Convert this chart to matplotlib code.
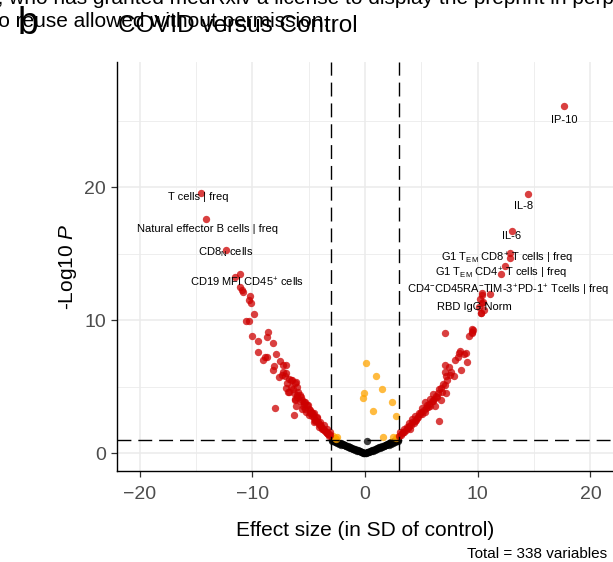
import matplotlib
matplotlib.use("Agg")
import matplotlib.pyplot as plt

plt.rcParams['font.family'] = ['Liberation Sans', 'DejaVu Sans']
plt.rcParams['mathtext.fontset'] = 'custom'
plt.rcParams['mathtext.rm'] = 'Liberation Sans'
plt.rcParams['mathtext.it'] = 'Liberation Sans:italic'
plt.rcParams['mathtext.default'] = 'regular'

# significant, large effect (red)
red_x = [-14.58, -14.10, -12.33, -11.08, -11.50, -11.05, -10.90, -10.85, -10.20, -10.25,
         -10.10, -9.82, -10.55, -10.32, -9.98, -9.45, -8.62, -8.71, -8.18, -9.51,
         -8.90, -9.05, -8.71, -7.90, -8.05, -8.15, -7.53, -7.23, -7.02, -7.00,
         -7.67, -6.55, -6.25, -7.00, -6.78, -6.04, -5.90, -6.25, -5.66, -7.97,
         -6.28, -5.45, -5.16, -6.10, -5.60, -4.86, -4.56, -5.00, -4.27, -3.97,
         -4.56, -3.67, -4.12, -3.38, -3.08, -6.84, -6.49, -6.13, -6.19, -6.04,
         -5.30, -5.07, -4.71, -4.41, -4.12, -3.82, -3.58, -3.38, -3.08, -5.80,
         -5.50, -5.30, -5.20, -4.90, -4.70, -4.50, -4.40, -4.20, -4.00, -3.90,
         -3.80, -3.70, -3.60, -3.50, -3.40, -3.30, -3.20, -3.15, -5.60, -5.40,
         -5.00, -4.80, -4.60, -4.30, -6.60, -6.40, -6.30, -6.00, -5.80, -7.30,
         -7.10, -6.90, -6.70, -7.40,
         17.66, 14.43, 13.07, 12.83, 12.83, 12.39, 12.09, 11.05, 10.28, 10.40,
         10.16, 10.40, 10.10, 10.34, 10.46, 10.55, 10.31, 9.57, 9.45, 9.27,
         9.45, 9.50, 7.08, 8.47, 8.33, 8.77, 8.92, 7.97, 8.27, 9.07,
         7.14, 7.44, 7.14, 7.58, 7.88, 8.56, 7.20, 7.08, 6.55, 6.84,
         7.20, 6.04, 6.40, 6.78, 6.25, 5.81, 5.36, 5.60, 5.07, 5.31,
         4.77, 6.55, 4.47, 4.18, 4.33, 3.88, 3.73, 3.44, 3.14, 4.03,
         3.00, 3.30, 3.50, 3.60, 3.80, 3.90, 4.10, 4.20, 4.40, 4.60,
         4.70, 4.90, 5.00, 5.20, 5.40, 5.50, 5.70, 5.90, 6.10, 6.30,
         6.50, 3.20, 3.40, 4.50, 5.10, 5.80, 6.00, 6.70, 6.90, 7.30,
         7.60]
red_y = [19.53, 17.57, 15.26, 13.43, 13.25, 12.45, 12.25, 12.10, 11.80, 11.50,
         11.28, 10.45, 9.93, 9.96, 8.78, 8.42, 9.07, 8.75, 8.28, 7.58,
         7.20, 7.02, 7.24, 7.48, 6.54, 6.22, 6.94, 6.60, 6.62, 6.04,
         5.69, 5.52, 5.24, 4.88, 4.61, 4.94, 4.61, 4.04, 4.23, 3.36,
         2.86, 3.86, 3.61, 3.53, 3.28, 3.23, 2.98, 2.86, 2.61, 2.35,
         2.35, 2.11, 1.98, 1.78, 1.60, 4.61, 5.49, 5.36, 3.98, 4.36,
         3.86, 3.61, 3.03, 2.48, 2.18, 1.78, 1.65, 1.53, 1.35, 3.90,
         3.50, 3.30, 3.10, 3.00, 2.80, 2.60, 2.40, 2.30, 2.10, 2.00,
         1.90, 1.80, 1.70, 1.60, 1.50, 1.45, 1.40, 1.30, 4.00, 3.70,
         3.30, 3.10, 2.90, 2.70, 5.00, 4.80, 4.50, 4.20, 4.40, 6.10,
         5.80, 5.30, 5.60, 5.90,
         26.11, 19.47, 16.71, 15.06, 14.64, 14.06, 13.43, 11.95, 10.55, 12.05,
         11.56, 11.26, 11.00, 11.88, 11.38, 10.75, 10.55, 9.25, 9.00, 8.80,
         9.12, 9.35, 9.00, 7.69, 7.50, 7.44, 7.54, 6.99, 7.20, 6.87,
         6.62, 6.44, 6.11, 5.86, 5.79, 6.24, 5.79, 5.11, 4.79, 4.61,
         4.53, 4.41, 4.23, 3.98, 3.53, 4.04, 3.86, 3.48, 3.36, 3.11,
         3.03, 2.43, 2.78, 2.53, 2.23, 2.23, 1.93, 1.78, 1.60, 1.78,
         1.28, 1.50, 1.60, 1.75, 1.90, 2.00, 2.10, 2.30, 2.40, 2.60,
         2.70, 2.90, 3.10, 3.20, 3.40, 3.60, 3.70, 3.90, 4.10, 4.30,
         4.50, 1.35, 1.60, 2.50, 2.95, 3.55, 3.90, 4.90, 5.20, 5.50,
         6.10]

# significant, small effect (orange)
orange_x = [0.06, 0.95, 1.51, -0.06, -0.15, 2.43, 0.68, 2.73, 1.60, -2.49,
            2.46, -2.70, -2.85, 2.75, 2.85, -2.60]
orange_y = [6.74, 5.81, 4.79, 4.49, 4.11, 3.86, 3.16, 2.76, 1.20, 1.18,
            1.20, 1.10, 1.25, 1.10, 1.20, 1.05]

# not significant (black)
black_x = [-2.95, -2.85, -2.75, -2.65, -2.55, -2.45, -2.35, -2.25, -2.15, -2.05,
           -1.95, -1.85, -1.75, -1.65, -1.55, -1.45, -1.35, -1.25, -1.15, -1.05,
           -0.95, -0.85, -0.75, -0.65, -0.55, -0.45, -0.35, -0.25, -0.15, -0.05,
           -2.90, -2.70, -2.50, -2.30, -2.10, -1.90, -1.70, -1.50, -1.30, -1.10,
           -0.90, -0.70, -0.50, -0.30, -0.10,
           0.05, 0.15, 0.25, 0.35, 0.45, 0.55, 0.65, 0.75, 0.85, 0.95,
           1.05, 1.15, 1.25, 1.35, 1.45, 1.55, 1.65, 1.75, 1.85, 1.95,
           2.05, 2.15, 2.25, 2.35, 2.45, 2.55, 2.65, 2.75, 2.85, 2.95,
           0.10, 0.30, 0.50, 0.70, 0.90, 1.10, 1.30, 1.50, 1.70, 1.90,
           2.10, 2.30, 2.50, 2.70, 2.90, 0.20]
black_y = [1.00, 0.96, 0.93, 0.89, 0.86, 0.82, 0.79, 0.75, 0.72, 0.68,
           0.65, 0.62, 0.58, 0.55, 0.51, 0.48, 0.44, 0.41, 0.37, 0.34,
           0.31, 0.27, 0.24, 0.21, 0.17, 0.14, 0.11, 0.07, 0.04, 0.01,
           0.90, 0.84, 0.77, 0.70, 0.64, 0.57, 0.51, 0.45, 0.38, 0.32,
           0.25, 0.19, 0.12, 0.06, 0.00,
           0.02, 0.05, 0.08, 0.11, 0.14, 0.18, 0.21, 0.24, 0.28, 0.31,
           0.35, 0.38, 0.42, 0.45, 0.49, 0.52, 0.56, 0.59, 0.63, 0.66,
           0.70, 0.73, 0.77, 0.80, 0.84, 0.87, 0.91, 0.94, 0.98, 1.01,
           0.00, 0.06, 0.12, 0.19, 0.25, 0.32, 0.38, 0.45, 0.51, 0.58,
           0.64, 0.71, 0.77, 0.84, 0.90, 0.92]

labels = ['T cells | freq', 'Natural effector B cells | freq', 'CD8$_{N}$ cells',
          'CD19 MFI CD45$^{+}$ cells', 'IP-10', 'IL-8', 'IL-6',
          'G1 T$_{EM}$ CD8$^{+}$ T cells | freq', 'G1 T$_{EM}$ CD4$^{+}$ T cells | freq',
          'CD4$^{-}$CD45RA$^{-}$TIM-3$^{+}$PD-1$^{+}$ Tcells | freq', 'RBD IgG Norm']
label_x = [-14.76, -13.93, -12.38, -10.49, 17.66, 14.11, 13.00, 12.62, 12.03, 12.69, 9.70]
label_y = [19.25, 16.82, 15.14, 12.83, 25.04, 18.57, 16.32, 14.64, 13.51, 12.26, 11.00]

fc_cut = 3
p_cut = 1.0

W, H = 613, 562
fig = plt.figure(figsize=(W/100, H/100), dpi=100)
ax = fig.add_axes([117/W, 1-471/H, (W-117)/W, (471-62)/H])

ax.set_xlim(-22, 22)
ax.set_ylim(-1.35, 29.4)
ax.set_xticks([-20, -10, 0, 10, 20])
ax.set_xticks([-15, -5, 5, 15], minor=True)
ax.set_yticks([0, 10, 20])
ax.set_yticks([5, 15, 25], minor=True)
ax.set_xticklabels(['\u221220', '\u221210', '0', '10', '20'])
ax.grid(which='major', color='#EBEBEB', lw=1.1)
ax.grid(which='minor', color='#EBEBEB', lw=0.6)
ax.set_axisbelow(True)
for s in ['top', 'right']:
    ax.spines[s].set_visible(False)
for s in ['left', 'bottom']:
    ax.spines[s].set_linewidth(1.0)
ax.tick_params(which='major', length=4, width=0.9, color='#333333',
               labelsize=14, labelcolor='#4D4D4D', pad=4)
ax.tick_params(axis='x', which='major', pad=7)
ax.tick_params(which='minor', length=0)

ax.scatter(black_x, black_y, s=28, c='black', alpha=0.75, lw=0, zorder=2)
ax.scatter(orange_x, orange_y, s=28, c='#FFA500', alpha=0.75, lw=0, zorder=2)
ax.scatter(red_x, red_y, s=28, c='#CD0000', alpha=0.75, lw=0, zorder=2)

ax.axvline(-fc_cut, color='black', lw=1.0, ls=(0, (10, 5)), zorder=3)
ax.axvline(fc_cut, color='black', lw=1.0, ls=(0, (10, 5)), zorder=3)
ax.axhline(p_cut, color='black', lw=1.0, ls=(0, (10, 5)), zorder=3)

for t, x, y in zip(labels, label_x, label_y):
    ax.text(x, y, t, fontsize=8, ha='center', va='center', zorder=4)

ax.set_xlabel('Effect size (in SD of control)', fontsize=15, labelpad=13)
ax.set_ylabel('-Log10 $\\mathit{P}$', fontsize=15, labelpad=4)

# preprint header bleeding in from above
fig.text(-8/W, 1-4/H, 'r, who has granted medRxiv a license to display the preprint in perpetuity. It is made',
         fontsize=15, va='baseline', ha='left')
fig.text(-17/W, 1-27/H, 'No reuse allowed without permission.', fontsize=15, va='baseline', ha='left')
fig.text(18/W, 1-34/H, 'b', fontsize=27, va='baseline', ha='left')
fig.text(118/W, 1-32/H, 'COVID versus Control', fontsize=17.5, va='baseline', ha='left')
fig.text(607/W, 1-558/H, 'Total = 338 variables', fontsize=11, va='baseline', ha='right')

fig.savefig('out.png', dpi=100)
